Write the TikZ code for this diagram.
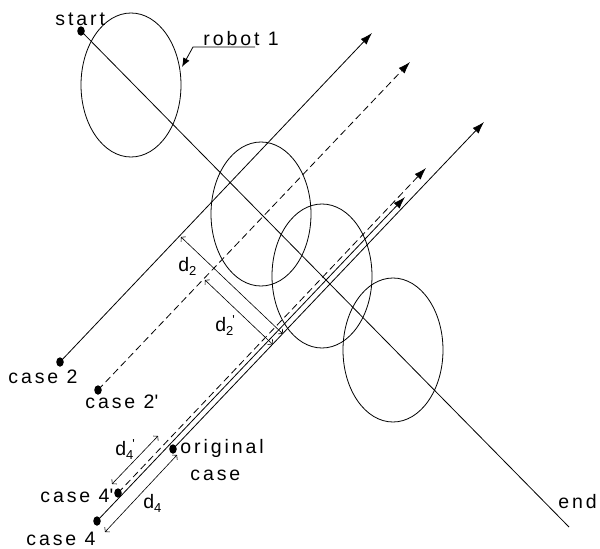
\documentclass[tikz,border=0pt]{standalone}
\usepackage{fontspec}
\setmainfont{Liberation Sans}[LetterSpace=15]
\usetikzlibrary{arrows.meta,calc,shapes.geometric}
\newcommand\dsub[1]{d\raisebox{-4pt}{\fontsize{13}{13}\selectfont #1}}
\newcommand\dsubp[1]{d\raisebox{-4pt}{\fontsize{13}{13}\selectfont #1}\kern-1pt\raisebox{7pt}{\fontsize{13}{13}\selectfont \textquotesingle}}
\begin{document}
\begin{tikzpicture}[x=1pt,y=-1pt,line width=0.8pt,
  lab/.style={font=\fontsize{19.5}{22}\selectfont, inner sep=0, anchor=base west},
  robot/.style={draw, ellipse, inner sep=0, minimum width=100pt, minimum height=144pt},
  dot/.style={fill, ellipse, inner sep=0, minimum width=7.5pt, minimum height=9.5pt},
  patharrow/.style={-{Latex[length=12pt,width=8pt]}},
  dashln/.style={dash pattern=on 7pt off 4pt},
  dim/.style={{Straight Barb[length=3pt,width=7pt]}-{Straight Barb[length=3pt,width=7pt]}, line width=0.6pt},
]
\useasboundingbox (0,0) rectangle (600,549);

% robot positions
\node[robot] (E1) at (131,85) {};
\node[robot] (E2) at (261,214) {};
\node[robot] (E3) at (322,276) {};
\node[robot] (E4) at (393,350) {};

% points
\node[dot] (start) at (81,31) {};
\node[dot] (c2) at (60,362) {};
\node[dot] (c2p) at (98,390) {};
\node[dot] (orig) at (173,449) {};
\node[dot] (c4p) at (118,493) {};
\node[dot] (c4) at (97,521) {};
\coordinate (endpt) at (569,527);
\coordinate (t2) at (372,33);
\coordinate (t2p) at (410,62);
\coordinate (t4p) at (426,168);
\coordinate (t4) at (405,197);
\coordinate (to) at (484,122);

% paths
\draw (start.center) -- (endpt);
\draw[patharrow] (c2.center) -- (t2);
\draw[patharrow,dashln] (c2p.center) -- (t2p);
\draw[patharrow,dashln] (c4p.center) -- (t4p);
\draw[patharrow] (c4.center) -- (t4);
\draw[patharrow] (orig.center) -- (to);

% dimensions
\coordinate (d2s) at (181,237);
\coordinate (d2ps) at (205,280);
\draw[dim] (d2s) -- ($(orig.center)!(d2s)!(to)$);
\draw[dim] (d2ps) -- ($(orig.center)!(d2ps)!(to)$);
\coordinate (d4pa) at (112,484);
\coordinate (d4pb) at (158,436);
\draw[dim] (d4pa) -- (d4pb);
\coordinate (d4a) at (105,532);
\coordinate (d4b) at (177,455);
\draw[dim] (d4a) -- (d4b);

% robot leader
\node[lab] (trobot) at (203,45) {robot 1};
\coordinate (ul1) at (255,47);
\coordinate (ul2) at (193,47);
\coordinate (ultip) at (182,67);
\draw[-{Latex[length=9pt,width=7pt]}] (ul1) -- (ul2) -- (ultip);

% labels
\node[lab] (tstart) at (55,25) {start};
\node[lab] (tc2) at (8,383) {case 2};
\node[lab] (tc2p) at (85,408) {case 2\textquotesingle};
\node[lab] (torig) at (180,453) {original};
\node[lab] (torig2) at (190,480) {case};
\node[lab] (tc4p) at (40,502) {case 4\textquotesingle};
\node[lab] (tc4) at (26,545) {case 4};
\node[lab] (tend) at (558,508) {end};
\node[lab] (ld2) at (178,271) {\dsub{2}};
\node[lab] (ld2p) at (215,331) {\dsubp{2}};
\node[lab] (ld4p) at (115,455) {\dsubp{4}};
\node[lab] (ld4) at (143,508) {\dsub{4}};
\end{tikzpicture}
\end{document}
